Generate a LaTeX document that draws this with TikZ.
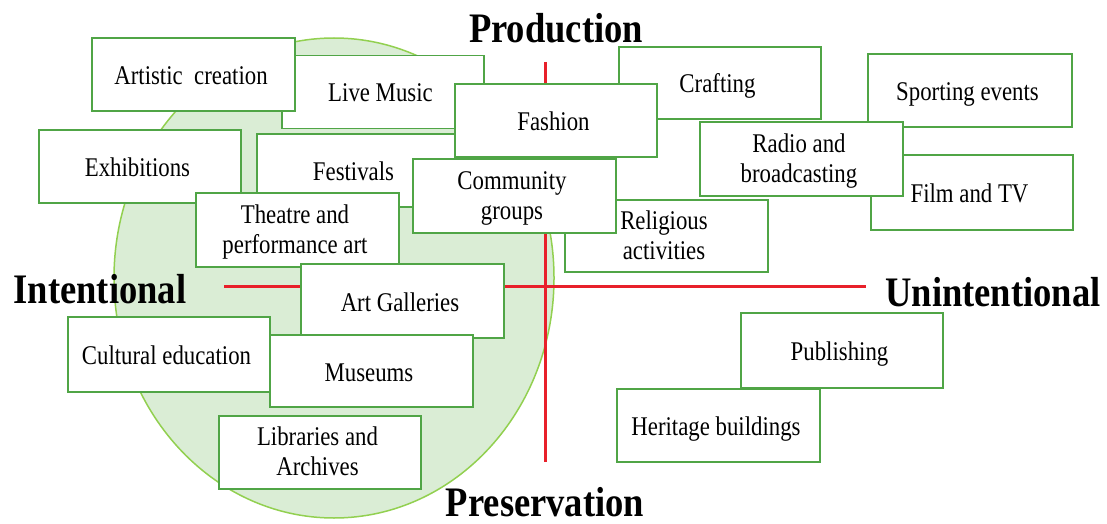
\documentclass[tikz,border=0pt]{standalone}
\usepackage{fontspec}
\setmainfont[FakeStretch=0.845]{Liberation Serif}
\newfontfamily\axisfont[FakeStretch=0.87]{Liberation Serif}

\definecolor{boxgreen}{RGB}{80,165,70}
\definecolor{ovalline}{RGB}{146,208,80}
\definecolor{ovalfill}{RGB}{218,237,213}
\definecolor{axisred}{RGB}{232,32,42}

\tikzset{
  item/.style={draw=boxgreen, line width=1.8pt, fill=white, inner sep=0pt,
    minimum width=202pt, minimum height=73pt,
    font=\fontsize{27}{30}\selectfont,
    text height=26pt, text depth=6pt,
    execute at end node={\hspace*{5pt}}},
  twoline/.style={align=center, text height=52pt, text depth=6pt,
    execute at end node={}},
  axislabel/.style={anchor=base, inner sep=0pt,
    font=\axisfont\bfseries\fontsize{42}{48}\selectfont},
  axisline/.style={draw=axisred, line width=3pt}
}

\begin{document}
\begin{tikzpicture}[x=1pt, y=-1pt]
\useasboundingbox (0,0) rectangle (1107,524);

% shaded region of intentional activities
\fill[ovalfill] (334,278) ellipse [x radius=220pt, y radius=240pt];
\draw[ovalline, line width=1.5pt] (334,278) ellipse [x radius=220pt, y radius=240pt];

% axes
\coordinate (top) at (545,62);
\coordinate (bottom) at (545,462);
\coordinate (left) at (224,286);
\coordinate (right) at (866,286);
\draw[axisline] (top) -- (bottom);
\draw[axisline] (left) -- (right);

% axis labels
\node[axislabel] (production) at (556,43) {Production};
\node[axislabel] (preservation) at (545,516) {Preservation};
\node[axislabel] (intentional) at (100,303) {Intentional};
\node[axislabel] (unintentional) at (993,306) {Unintentional};

% activities (later boxes overlap earlier ones)
\node[item] (live) at (383,92) {Live Music};
\node[item, minimum width=203pt] (artistic) at (193.5,74.5) {Artistic~ creation};
\node[item, minimum height=72pt] (crafting) at (720,83) {Crafting};
\node[item, minimum width=198pt] (festivals) at (356,170.5) {Festivals};
\node[item] (fashion) at (556,120.5) {Fashion};
\node[item, minimum width=204pt] (sporting) at (970,90.5) {Sporting events};
\node[item, minimum height=75pt] (film) at (972,192.5) {Film and TV};
\node[item, twoline, minimum width=203pt, minimum height=74pt] (radio) at (801.5,159) {Radio and\\broadcasting};
\node[item] (exhibitions) at (140,166.5) {Exhibitions};
\node[item, twoline, minimum width=203pt, minimum height=72pt] (religious) at (666.5,236) {Religious\\activities};
\node[item, twoline, minimum width=203pt, minimum height=74pt] (community) at (514.5,196) {Community\\groups};
\node[item, twoline, minimum width=203pt, minimum height=74pt] (theatre) at (297.5,230) {Theatre and\\performance art};
\node[item, minimum width=203pt, minimum height=74pt] (galleries) at (402.5,301) {Art Galleries};
\node[item, minimum height=75pt] (cultural) at (169,354.5) {Cultural education};
\node[item, minimum width=203pt, minimum height=72pt] (museums) at (371.5,371) {Museums};
\node[item, twoline] (libraries) at (320,452.5) {Libraries and\\Archives};
\node[item, minimum width=203pt] (heritage) at (718.5,425.5) {Heritage buildings};
\node[item, minimum height=75pt] (publishing) at (842,350.5) {Publishing};

\end{tikzpicture}
\end{document}
